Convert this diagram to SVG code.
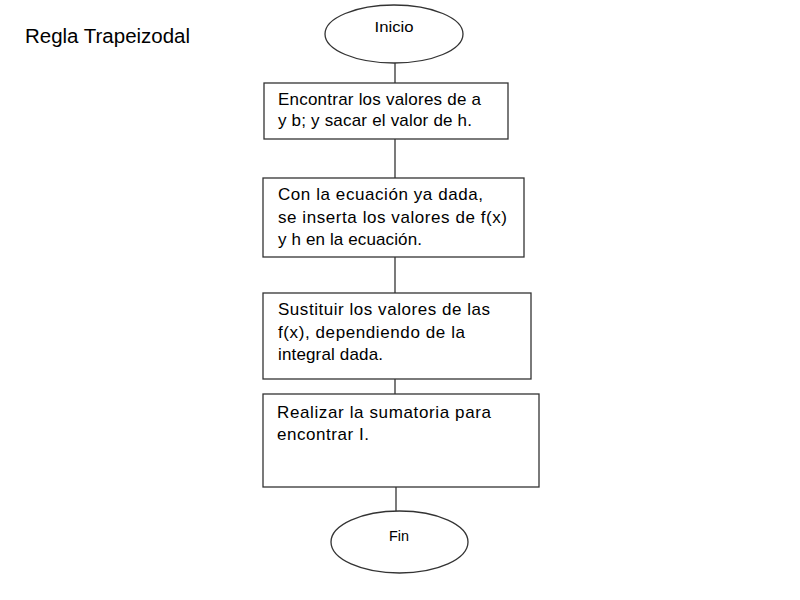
<svg xmlns="http://www.w3.org/2000/svg" width="800" height="600" viewBox="0 0 800 600">
<style>
.box{fill:#fff;stroke:#333;stroke-width:1.3}
.term{fill:#fff;stroke:#333;stroke-width:1.3}
.conn line{stroke:#333;stroke-width:1.3}
.t{font-family:"Liberation Sans",Arial,sans-serif;font-size:17px;fill:#000}
.tt{font-family:"Liberation Sans",Arial,sans-serif;font-size:15.5px;fill:#000;text-anchor:middle}
.title{font-family:"Liberation Sans",Arial,sans-serif;font-size:19.5px;fill:#000}
</style>
<rect width="800" height="600" fill="#fff"/>
<text class="title" x="25" y="43" textLength="165" lengthAdjust="spacingAndGlyphs">Regla Trapeizodal</text>
<g id="connectors" class="conn">
<line x1="395" y1="63" x2="395" y2="83"/>
<line x1="395" y1="139" x2="395" y2="178"/>
<line x1="395" y1="257" x2="395" y2="293"/>
<line x1="395" y1="379" x2="395" y2="394"/>
<line x1="396" y1="487" x2="396" y2="511"/>
</g>
<g id="inicio">
<ellipse class="term" cx="394" cy="34" rx="69" ry="29"/>
<text class="tt" x="394" y="32" textLength="39" lengthAdjust="spacingAndGlyphs">Inicio</text>
</g>
<g id="paso1">
<rect class="box" x="264" y="83" width="244" height="56"/>
<text class="t" x="278" y="105" textLength="203" lengthAdjust="spacing">Encontrar los valores de a</text>
<text class="t" x="278" y="126" textLength="194" lengthAdjust="spacing">y b; y sacar el valor de h.</text>
</g>
<g id="paso2">
<rect class="box" x="263" y="178" width="261" height="79"/>
<text class="t" x="278" y="200" textLength="205" lengthAdjust="spacing">Con la ecuación  ya dada,</text>
<text class="t" x="278" y="223" textLength="229" lengthAdjust="spacing">se inserta los valores de f(x)</text>
<text class="t" x="278" y="245" textLength="144" lengthAdjust="spacing">y h en la ecuación.</text>
</g>
<g id="paso3">
<rect class="box" x="263" y="293" width="268" height="86"/>
<text class="t" x="278" y="315" textLength="212" lengthAdjust="spacing">Sustituir los valores de las</text>
<text class="t" x="278" y="338" textLength="187" lengthAdjust="spacing">f(x), dependiendo de la</text>
<text class="t" x="278" y="360" textLength="105" lengthAdjust="spacing">integral dada.</text>
</g>
<g id="paso4">
<rect class="box" x="263" y="394" width="276" height="93"/>
<text class="t" x="277" y="418" textLength="214" lengthAdjust="spacing">Realizar la sumatoria para</text>
<text class="t" x="277" y="440" textLength="92" lengthAdjust="spacing">encontrar I.</text>
</g>
<g id="fin">
<ellipse class="term" cx="399.5" cy="542" rx="68.5" ry="31"/>
<text class="tt" x="399" y="541" textLength="20" lengthAdjust="spacingAndGlyphs">Fin</text>
</g>
</svg>
